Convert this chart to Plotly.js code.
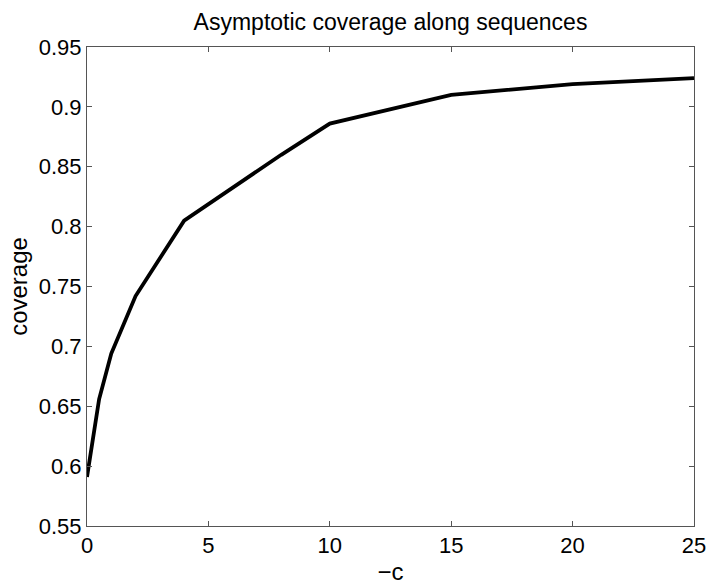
<!DOCTYPE html>
<html>
<head>
<meta charset="utf-8">
<script src="https://cdn.plot.ly/plotly-3.0.1.min.js"></script>
<style>html,body{margin:0;padding:0;background:#fff;}#chart{width:708px;height:586px;}</style>
</head>
<body>
<div id="chart"></div>
<script>
const negC = [0, 0.25, 0.5, 1, 2, 4, 8, 10, 15, 20, 25];
const coverage = [0.591, 0.623, 0.656, 0.694, 0.742, 0.805, 0.860, 0.886, 0.910, 0.919, 0.924];
const yTickVals = [0.55, 0.6, 0.65, 0.7, 0.75, 0.8, 0.85, 0.9, 0.95];
const yTickText = ["0.55", "0.6", "0.65", "0.7", "0.75", "0.8", "0.85", "0.9", "0.95"];
const xTickVals = [0, 5, 10, 15, 20, 25];
const xTickText = ["0", "5", "10", "15", "20", "25"];

const font = "Liberation Sans, Arial, Helvetica, sans-serif";
const data = [{
  x: negC, y: coverage, type: 'scatter', mode: 'lines',
  line: {color: '#000', width: 3.8}, hoverinfo: 'none'
}];
const axisCommon = {
  showline: true, linecolor: '#555', linewidth: 1, mirror: 'ticks',
  ticks: 'inside', ticklen: 5, tickcolor: '#555', tickwidth: 1,
  showgrid: false, zeroline: false,
  tickfont: {family: font, size: 22, color: '#000'}
};
const layout = {
  width: 708, height: 586,
  margin: {l: 87, r: 14, t: 47, b: 60},
  paper_bgcolor: '#fff', plot_bgcolor: '#fff',
  showlegend: false,
  title: {text: 'Asymptotic coverage along sequences', font: {family: font, size: 23, color: '#000'},
          x: 0.5, xref: 'paper', y: 1 - 22/586, yref: 'container', yanchor: 'middle'},
  xaxis: Object.assign({}, axisCommon, {
    range: [0, 25], tickvals: xTickVals, ticktext: xTickText,
    title: {text: '\u2212c', font: {family: font, size: 24, color: '#000'}, standoff: 5}
  }),
  yaxis: Object.assign({}, axisCommon, {
    range: [0.55, 0.95], tickvals: yTickVals, ticktext: yTickText,
    title: {text: 'coverage', font: {family: font, size: 24, color: '#000'}, standoff: 4}
  })
};
Plotly.newPlot('chart', data, layout, {staticPlot: true, displayModeBar: false});
</script>
</body>
</html>
